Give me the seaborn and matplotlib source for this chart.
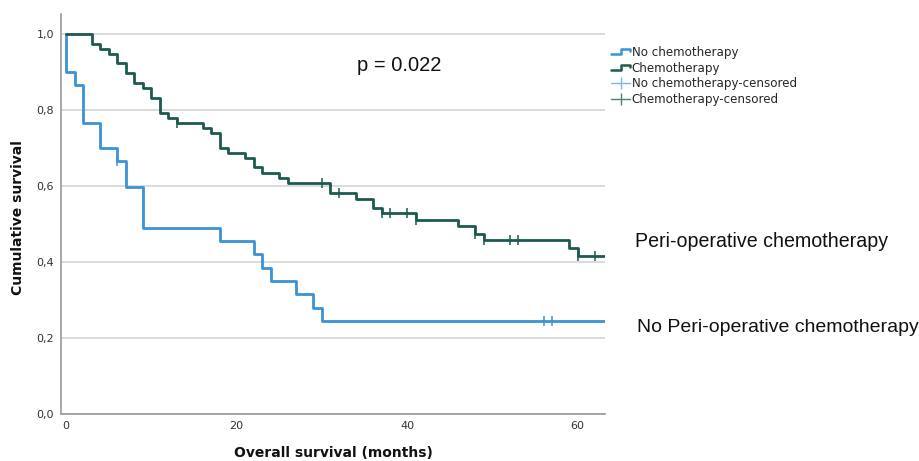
import numpy as np
import pandas as pd
import seaborn as sns
import matplotlib.pyplot as plt
from matplotlib.lines import Line2D
from matplotlib.legend_handler import HandlerBase

# Kaplan-Meier steps (time in months, survival after the step)
no_chemo_times = [0, 0, 1, 2, 4, 6, 7, 9, 18, 22, 23, 24, 27, 29, 30, 63.2]
no_chemo_surv = [1.0, 0.90, 0.867, 0.767, 0.70, 0.667, 0.597, 0.49, 0.456, 0.422,
                 0.385, 0.351, 0.316, 0.28, 0.246, 0.246]
no_chemo_censored = [6, 56, 57]

chemo_times = [0, 3, 4, 5, 6, 7, 8, 9, 10, 11, 12, 13, 16, 17, 18, 19, 21, 22, 23,
               25, 26, 31, 34, 36, 37, 41, 46, 48, 49, 59, 60, 63.2]
chemo_surv = [1.0, 0.975, 0.960, 0.949, 0.923, 0.898, 0.872, 0.857, 0.832, 0.793,
              0.778, 0.766, 0.753, 0.740, 0.70, 0.687, 0.674, 0.649, 0.635, 0.622,
              0.609, 0.582, 0.565, 0.541, 0.528, 0.511, 0.495, 0.475, 0.458, 0.436,
              0.417, 0.417]
chemo_censored = [13, 30, 32, 37, 38, 40, 41, 48, 49, 52, 53, 60, 62]

y_ticks = [0.0, 0.2, 0.4, 0.6, 0.8, 1.0]
y_tick_labels = ["0,0", "0,2", "0,4", "0,6", "0,8", "1,0"]
x_ticks = [0, 20, 40, 60]

BLUE = "#3a93d6"
GREEN = "#1c5a50"
BLUE_LIGHT = "#7ab8e2"
GREEN_LIGHT = "#4a8076"


def level_at(times, surv, t):
    idx = np.searchsorted(times, t, side="right") - 1
    return surv[idx]


class HandlerStep(HandlerBase):
    def create_artists(self, legend, orig, xd, yd, width, height, fontsize, trans):
        xs = [xd, xd + width * 0.5, xd + width * 0.5, xd + width, xd + width]
        ys = [yd + height * 0.25, yd + height * 0.25, yd + height * 0.8,
              yd + height * 0.8, yd + height * 0.55]
        ln = Line2D(xs, ys, color=orig.get_color(), lw=orig.get_linewidth(),
                    transform=trans)
        return [ln]


sns.set_style("white")
plt.rcParams["font.family"] = ["DejaVu Sans"]

fig = plt.figure(figsize=(9.2, 4.61), dpi=100)
ax = fig.add_axes([61 / 920, 1 - 414 / 461, 544 / 920, 400 / 461])

nc = pd.DataFrame({"t": no_chemo_times, "s": no_chemo_surv})
ch = pd.DataFrame({"t": chemo_times, "s": chemo_surv})
sns.lineplot(data=nc, x="t", y="s", ax=ax, color=BLUE, lw=2.0, sort=False,
             estimator=None, drawstyle="steps-post", zorder=3)
sns.lineplot(data=ch, x="t", y="s", ax=ax, color=GREEN, lw=2.0, sort=False,
             estimator=None, drawstyle="steps-post", zorder=4)

nc_c = pd.DataFrame({"t": no_chemo_censored,
                     "s": [level_at(no_chemo_times, no_chemo_surv, c) for c in no_chemo_censored]})
ch_c = pd.DataFrame({"t": chemo_censored,
                     "s": [level_at(chemo_times, chemo_surv, c) for c in chemo_censored]})
sns.scatterplot(data=nc_c, x="t", y="s", ax=ax, marker="|", s=55, color=BLUE,
                linewidth=1.1, zorder=5)
sns.scatterplot(data=ch_c, x="t", y="s", ax=ax, marker="|", s=55, color=GREEN,
                linewidth=1.1, zorder=5)

ax.set_xlim(-0.6, 63.2)
ax.set_ylim(0, 1.053)
ax.set_yticks(y_ticks)
ax.set_yticklabels(y_tick_labels)
ax.set_xticks(x_ticks)
ax.tick_params(axis="both", length=0, labelsize=8, colors="#333333", pad=5)
ax.yaxis.grid(True, color="#d4d4d4", lw=1.2)
ax.set_axisbelow(True)
for side in ["top", "right"]:
    ax.spines[side].set_visible(False)
for side in ["left", "bottom"]:
    ax.spines[side].set_color("#9a9a9a")
    ax.spines[side].set_linewidth(1.2)

ax.set_xlabel("Overall survival (months)", fontsize=10, fontweight="bold", color="#111111")
ax.set_ylabel("Cumulative survival", fontsize=10, fontweight="bold", color="#111111")
ax.xaxis.set_label_coords(0.5, -0.08)
ax.yaxis.set_label_coords(-0.066, 0.49)

ax.text(39.1, 0.918, "p = 0.022", fontsize=14.5, family=["Liberation Sans"],
        ha="center", va="center", color="#111111")

fig.text(635 / 920, 1 - 241 / 461, "Peri-operative chemotherapy", fontsize=14.1,
         family=["Liberation Sans"], ha="left", va="center", color="#111111")
fig.text(637 / 920, 1 - 327 / 461, "No Peri-operative chemotherapy", fontsize=14.0,
         family=["Liberation Sans"], ha="left", va="center", color="#111111")

handles = [
    Line2D([], [], color=BLUE, lw=1.8),
    Line2D([], [], color=GREEN, lw=1.8),
    Line2D([], [], color=BLUE_LIGHT, lw=1.0, marker="|", markersize=9),
    Line2D([], [], color=GREEN_LIGHT, lw=1.0, marker="|", markersize=9),
]
labels = ["No chemotherapy", "Chemotherapy", "No chemotherapy-censored",
          "Chemotherapy-censored"]
fig.legend(handles, labels, loc="upper left", bbox_to_anchor=(605 / 920, 1 - 40 / 461),
           frameon=False, fontsize=8.6, handlelength=1.6, handletextpad=0.15,
           labelspacing=0.22, borderpad=0,
           handler_map={handles[0]: HandlerStep(), handles[1]: HandlerStep()})

fig.savefig("out.png", dpi=100)
